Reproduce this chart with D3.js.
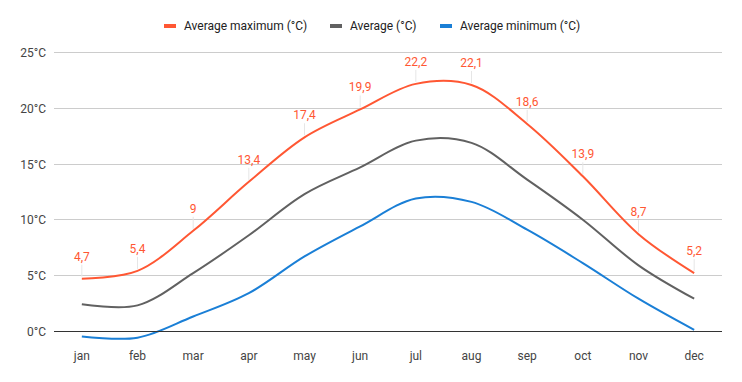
<!DOCTYPE html>
<html><head><meta charset="utf-8">
<script src="https://cdn.jsdelivr.net/npm/d3@7"></script>
<style>body{margin:0;background:#fff}svg{display:block;font-family:Roboto,Arial,sans-serif}</style>
</head><body><svg id="c" width="742" height="382"></svg>
<script>
const months = ["jan","feb","mar","apr","may","jun","jul","aug","sep","oct","nov","dec"];
const maxT = [4.7,5.4,9,13.4,17.4,19.9,22.2,22.1,18.6,13.9,8.7,5.2];
const avgT = [2.4,2.3,5.2,8.6,12.3,14.7,17.1,16.9,13.6,10.0,5.9,2.9];
const minT = [-0.5,-0.6,1.3,3.4,6.7,9.4,11.9,11.6,9.1,6.1,2.9,0.1];
const yTicks = [0,5,10,15,20,25];
const seriesNames = ["Average maximum (°C)","Average (°C)","Average minimum (°C)"];
const colors = ["#ff5733","#616161","#1a7fd6"];

const svg = d3.select("#c");
const x = d3.scaleBand().domain(months).range([54,722]);
const cx = m => x(m) + x.bandwidth()/2;
const y = d3.scaleLinear().domain([0,25]).range([331,52.7]);

// grid
svg.append("g").selectAll("line").data(yTicks.filter(t=>t!==0)).join("line")
  .attr("x1",54).attr("x2",722).attr("y1",d=>y(d)).attr("y2",d=>y(d))
  .attr("stroke","#cccccc").attr("stroke-width",1).attr("shape-rendering","crispEdges");
svg.append("g").selectAll("text").data(yTicks).join("text")
  .attr("x",46).attr("y",d=>y(d)+4.5).attr("text-anchor","end")
  .attr("font-size",12).attr("fill","#444").text(d=>d+"°C");
svg.append("g").selectAll("text").data(months).join("text")
  .attr("x",d=>cx(d)).attr("y",360).attr("text-anchor","middle")
  .attr("font-size",12).attr("fill","#444").text(d=>d);

// leader lines and labels for max
svg.append("g").selectAll("line").data(months).join("line")
  .attr("x1",d=>cx(d)).attr("x2",d=>cx(d))
  .attr("y1",(d,i)=>y(maxT[i])-2).attr("y2",(d,i)=>y(maxT[i])-14)
  .attr("stroke","#e6e6e6").attr("stroke-width",1);

const line = d3.line().x((d,i)=>cx(months[i])).y(d=>y(d)).curve(d3.curveCatmullRom.alpha(0.5));
[maxT,avgT,minT].forEach((s,k)=>{
  svg.append("path").attr("d",line(s)).attr("fill","none")
    .attr("stroke",colors[k]).attr("stroke-width",2);
});
// zero baseline
svg.append("line").attr("x1",54).attr("x2",722).attr("y1",y(0)).attr("y2",y(0))
  .attr("stroke","#333").attr("stroke-width",1).attr("shape-rendering","crispEdges");

svg.append("g").selectAll("text").data(months).join("text")
  .attr("x",d=>cx(d)).attr("y",(d,i)=>y(maxT[i])-18).attr("text-anchor","middle")
  .attr("font-size",12).attr("fill",colors[0]).text((d,i)=>String(maxT[i]).replace(".",","));

// legend
const legX = [164,330,440];
seriesNames.forEach((n,k)=>{
  svg.append("rect").attr("x",legX[k]).attr("y",24).attr("width",12).attr("height",4).attr("fill",colors[k]);
  svg.append("text").attr("x",legX[k]+20).attr("y",30).attr("font-size",12).attr("fill","#222").text(n);
});
</script></body></html>
